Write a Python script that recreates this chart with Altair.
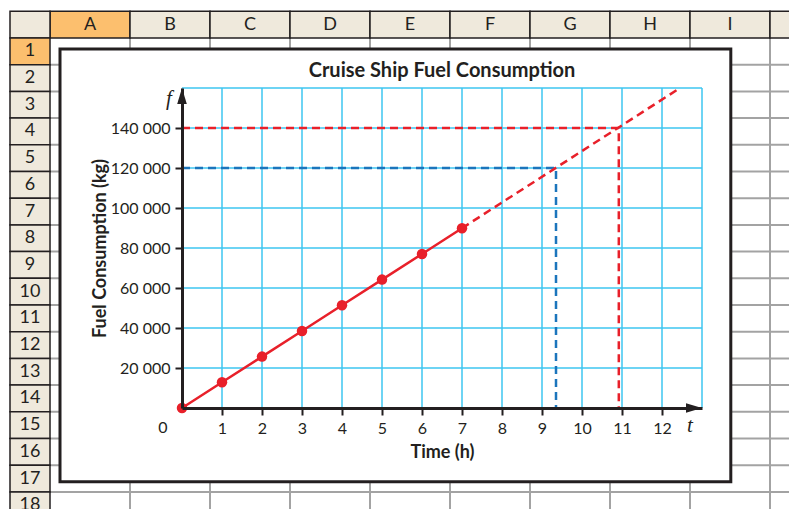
import altair as alt
import pandas as pd

# ---------------- chart data ----------------
hours = [0, 1, 2, 3, 4, 5, 6, 7]
fuel = [0, 12900, 25700, 38500, 51400, 64200, 77000, 89900]
ext_t = [7, 12.45]
ext_f = [89900, 160000]
blue_t = [0, 9.35, 9.35]
blue_f = [120000, 120000, 0]
red_t = [0, 10.92, 10.92]
red_f = [140000, 140000, 0]
x_ticks = [1, 2, 3, 4, 5, 6, 7, 8, 9, 10, 11, 12]
x_grid = [1, 2, 3, 4, 5, 6, 7, 8, 9, 10, 11, 12, 13]
y_ticks = [20000, 40000, 60000, 80000, 100000, 120000, 140000]
y_grid = [20000, 40000, 60000, 80000, 100000, 120000, 140000, 160000]
title_text = "Cruise Ship Fuel Consumption"
x_title = "Time (h)"
y_title = "Fuel Consumption (kg)"

# ---------------- spreadsheet data ----------------
col_letters = ["A", "B", "C", "D", "E", "F", "G", "H", "I", ""]
row_numbers = list(range(1, 19))
box_u = [0.125, 8.51]
box_v = [0.41, 16.62]

RED = "#e8202a"
BLUE = "#1b75bc"
CYAN = "#3ec6f0"
INK = "#231f20"
BEIGE = "#efe9dc"
ORANGE = "#fcbf6e"
GREY = "#a3a3a3"
FONT = "Lato"

# sheet scales (sheet units -> pixels relative to plot origin)
SX = alt.Scale(domain=[0, 10], range=[-132, 668], nice=False, zero=False)
SY = alt.Scale(domain=[0, 18], range=[-50, 430.6], nice=False, zero=False)

hdr = []
for i, l in enumerate(col_letters):
    hdr.append(dict(u0=i, u1=i + 1, v0=-1, v1=0, label=l, hi=(l == "A")))
hdr.append(dict(u0=-0.5, u1=0, v0=-1, v1=0, label="", hi=False))
for k in row_numbers:
    hdr.append(dict(u0=-0.5, u1=0, v0=k - 1, v1=k, label=str(k), hi=(k == 1)))
hdr_df = pd.DataFrame(hdr)
hdr_df["uc"] = (hdr_df.u0 + hdr_df.u1) / 2
hdr_df["vc"] = (hdr_df.v0 + hdr_df.v1) / 2

vl_df = pd.DataFrame({"u0": list(range(1, len(col_letters) + 1)), "v0": 0, "v1": len(row_numbers)})
hl_df = pd.DataFrame({"v0": row_numbers, "u0": 0, "u1": len(col_letters)})
box_df = pd.DataFrame({"u0": [box_u[0]], "u1": [box_u[1]], "v0": [box_v[0]], "v1": [box_v[1]]})

SXe = alt.X("u0:Q", scale=SX, axis=None)
SYe = alt.Y("v0:Q", scale=SY, axis=None)

hdr_rect = alt.Chart(hdr_df).mark_rect(stroke=INK, strokeWidth=1.5).encode(
    x=SXe, x2="u1:Q", y=SYe, y2="v1:Q",
    fill=alt.condition("datum.hi", alt.value(ORANGE), alt.value(BEIGE)),
)
hdr_text = alt.Chart(hdr_df).transform_calculate(u0="datum.uc", v0="datum.vc").mark_text(
    font=FONT, fontSize=18, color=INK, baseline="middle", align="center").encode(
    x=SXe, y=SYe, text="label:N"
)
vlines = alt.Chart(vl_df).mark_rule(color=GREY, strokeWidth=2).encode(x=SXe, y=SYe, y2="v1:Q")
hlines = alt.Chart(hl_df).mark_rule(color=GREY, strokeWidth=2).encode(y=SYe, x=SXe, x2="u1:Q")
box = alt.Chart(box_df).mark_rect(fill="white", stroke=INK, strokeWidth=3).encode(
    x=SXe, x2="u1:Q", y=SYe, y2="v1:Q"
)
sheet = alt.layer(vlines, hlines, hdr_rect, hdr_text, box)

# ---------------- plot ----------------
PX = alt.Scale(domain=[0, 13], nice=False, zero=False)
PY = alt.Scale(domain=[0, 160000], nice=False, zero=False)
AX = alt.Axis(values=x_ticks, format="d", titlePadding=7, orient="bottom", zindex=2)
AY = alt.Axis(values=y_ticks, labelExpr="replace(format(datum.value, ','), ',', ' ')",
              titlePadding=1, orient="left", zindex=2)
PXe = alt.X("t:Q", scale=PX, axis=AX, title=x_title)
PYe = alt.Y("f:Q", scale=PY, axis=AY, title=y_title)

gx_df = pd.DataFrame({"t": x_grid, "f": 0, "f1": 160000})
gy_df = pd.DataFrame({"f": y_grid, "t": 0, "t1": 13})
gridx = alt.Chart(gx_df).mark_rule(color=CYAN, strokeWidth=1.5).encode(x=PXe, y=PYe, y2="f1:Q")
gridy = alt.Chart(gy_df).mark_rule(color=CYAN, strokeWidth=1.5).encode(y=PYe, x=PXe, x2="t1:Q")

def guide(ts, fs, color):
    df = pd.DataFrame({"t": ts, "f": fs, "o": list(range(len(ts)))})
    return alt.Chart(df).mark_line(color=color, strokeWidth=2.5, strokeDash=[8, 5]).encode(
        x=PXe, y=PYe, order="o:Q"
    )

blue = guide(blue_t, blue_f, BLUE)
redg = guide(red_t, red_f, RED)
ext = guide(ext_t, ext_f, RED)

data_df = pd.DataFrame({"t": hours, "f": fuel})
line = alt.Chart(data_df).mark_line(color=RED, strokeWidth=2.5).encode(x=PXe, y=PYe)
pts = alt.Chart(data_df).mark_circle(color=RED, size=110, opacity=1).encode(x=PXe, y=PYe)

arr_df = pd.DataFrame({"t": [0, 13], "f": [160000, 0], "shape": ["M0,0L0.6,2L-0.6,2Z", "M0,0L-2,-0.6L-2,0.6Z"]})
arrows = alt.Chart(arr_df).mark_point(filled=True, color=INK, size=256, opacity=1).encode(
    x=PXe, y=PYe, shape=alt.Shape("shape:N", scale=None, legend=None),
)

def label(t, f, s, dx, dy, **kw):
    df = pd.DataFrame({"t": [t], "f": [f], "s": [s]})
    return alt.Chart(df).mark_text(color=INK, dx=dx, dy=dy, **kw).encode(x=PXe, y=PYe, text="s:N")

flab = label(0, 160000, "f", -13, 11, font="Liberation Serif", fontStyle="italic", fontSize=21)
tlab = label(13, 0, "t", -12, 18, font="Liberation Serif", fontStyle="italic", fontSize=21)
zlab = label(0, 0, "0", -19, 20, font=FONT, fontSize=16)
ttl = label(6.5, 160000, title_text, 0, -17, font=FONT, fontSize=20, fontWeight="bold")

plot = alt.layer(gridx, gridy, blue, redg, ext, line, pts, arrows, flab, tlab, zlab, ttl)

chart = alt.layer(sheet, plot).resolve_scale(x="independent", y="independent").properties(
    width=520, height=320,
    padding={"left": 174, "top": 80, "right": 87, "bottom": 101},
    autosize=alt.AutoSizeParams(type="none"),
).configure_view(stroke=None).configure_axis(
    domainColor=INK, domainWidth=3, tickColor=INK, tickWidth=2, tickSize=7,
    labelFont=FONT, labelFontSize=16, labelColor=INK, labelPadding=5,
    titleFont=FONT, titleFontSize=18, titleFontWeight="bold", titleColor=INK,
    grid=False,
)

chart.save("out.html", embed_options={"renderer": "svg", "actions": False})
